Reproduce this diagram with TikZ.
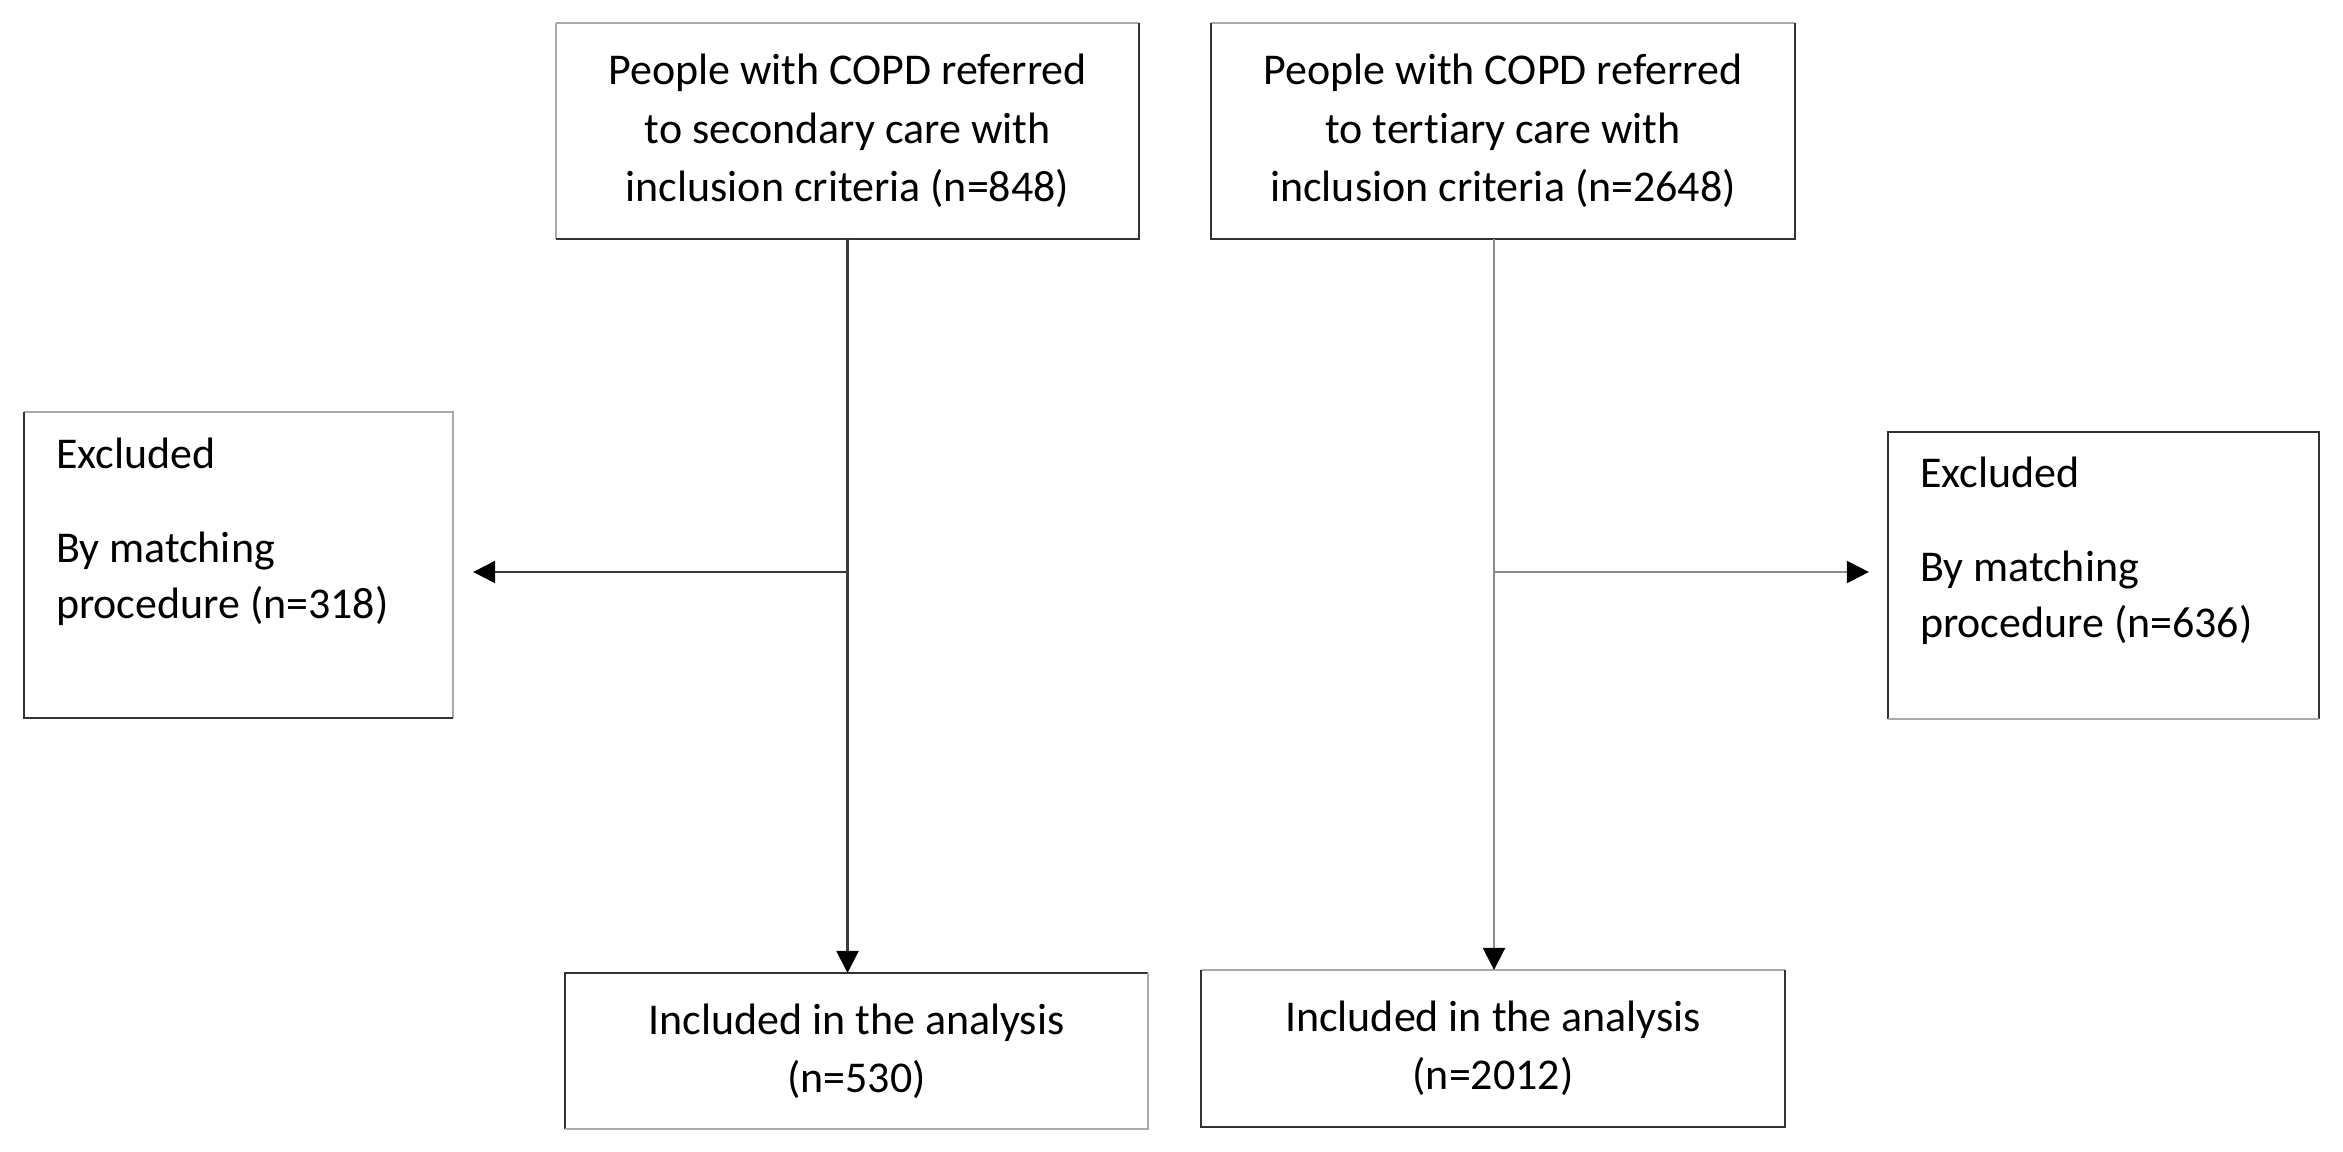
\documentclass[tikz,border=0pt]{standalone}
\usepackage{fontspec}
\setmainfont[Ligatures=NoCommon]{Carlito}
\usetikzlibrary{arrows.meta}
\definecolor{edgedark}{HTML}{333333}
\definecolor{edgelight}{HTML}{AAAAAA}
\definecolor{linedark}{HTML}{3A3A3A}
\definecolor{linelight}{HTML}{8C8C8C}
\begin{document}
\begin{tikzpicture}[x=0.01cm,y=-0.01cm,
  box/.style={rectangle, inner sep=0pt, outer sep=0pt, align=center,
    font=\fontsize{12.5pt}{16.6pt}\selectfont},
  txt/.style={inner sep=0pt, outer sep=0pt, align=left, anchor=base west,
    font=\fontsize{12.5pt}{15.9pt}\selectfont},
  ed/.style={draw=edgedark, line width=0.6pt},
  el/.style={draw=edgelight, line width=0.6pt},
  flow/.style={line width=0.6pt, -{Triangle[length=2.2mm,width=2.2mm,color=black]}},
]
\useasboundingbox (0,0) rectangle (2343,1151);
\fill[white] (0,0) rectangle (2343,1151);

% top boxes
\node[box, minimum width=5.83cm, minimum height=2.16cm] (tl) at (847.5,131)
  {People with COPD referred\\to secondary care with\\inclusion criteria (n=848)};
\node[box, minimum width=5.84cm, minimum height=2.16cm] (tr) at (1503,131)
  {People with COPD referred\\to tertiary care with\\inclusion criteria (n=2648)};

% excluded boxes
\node[box, minimum width=4.29cm, minimum height=3.06cm] (exL) at (238.5,565) {};
\node[box, minimum width=4.31cm, minimum height=2.87cm] (exR) at (2103.5,575.5) {};
% anchor base west = baseline of the last line
\node[txt] (exLt) at (56,618) {Excluded\\[0.38cm]By matching\\procedure (n=318)};
\node[txt] (exRt) at (1920,637) {Excluded\\[0.38cm]By matching\\procedure (n=636)};

% bottom boxes
\node[box, minimum width=5.83cm, minimum height=1.56cm] (bl) at (856.5,1051)
  {Included in the analysis\\(n=530)};
\node[box, minimum width=5.84cm, minimum height=1.57cm] (br) at (1493,1048.5)
  {Included in the analysis\\(n=2012)};

% box edges
\draw[el] (tl.north west) -- (tl.north east);
\draw[el] (tl.north west) -- (tl.south west);
\draw[ed] (tl.north east) -- (tl.south east) -- (tl.south west);

\draw[el] (tr.north west) -- (tr.north east);
\draw[ed] (tr.north east) -- (tr.south east) -- (tr.south west) -- (tr.north west);

\draw[el] (exL.north west) -- (exL.north east) -- (exL.south east);
\draw[ed] (exL.south east) -- (exL.south west) -- (exL.north west);

\draw[ed] (exR.south west) -- (exR.north west) -- (exR.north east) -- (exR.south east);
\draw[el] (exR.south east) -- (exR.south west);

\draw[ed] (bl.south west) -- (bl.north west) -- (bl.north east);
\draw[el] (bl.north east) -- (bl.south east) -- (bl.south west);

\draw[el] (br.north west) -- (br.north east);
\draw[ed] (br.north east) -- (br.south east) -- (br.south west) -- (br.north west);

% connectors
\coordinate (jL) at (849,572);
\coordinate (jR) at (1494,572);
\draw[flow, draw=linedark] (tl.south) -- (tl.south |- bl.north);
\draw[flow, draw=linedark, shorten >=2mm] (tl.south |- jL) -- (exL.east |- jL);
\draw[flow, draw=linelight] (jR |- tr.south) -- (jR |- br.north);
\draw[flow, draw=linelight, shorten >=1.9mm] (jR) -- (exR.west |- jR);
\end{tikzpicture}
\end{document}
